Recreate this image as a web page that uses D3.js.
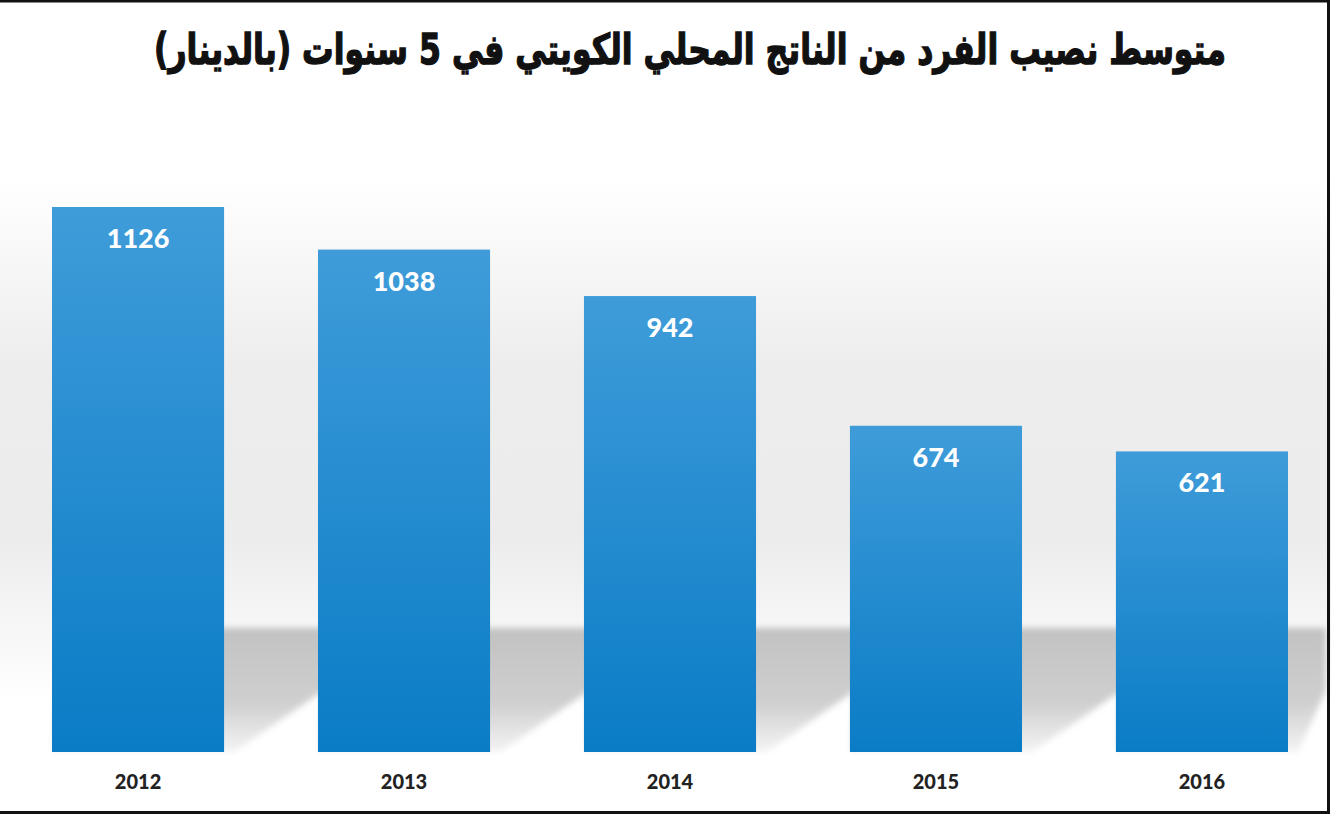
<!DOCTYPE html>
<html>
<head>
<meta charset="utf-8">
<script src="https://cdn.jsdelivr.net/npm/d3@7"></script>
<style>
	html, body { margin: 0; padding: 0; background: #fff; }
	svg { display: block; }
</style>
</head>
<body>
<div id="chart"></div>
<script>
// data
var years = ["2012", "2013", "2014", "2015", "2016"];
var values = [1126, 1038, 942, 674, 621];
var title = "متوسط نصيب الفرد من الناتج المحلي الكويتي في 5 سنوات (بالدينار)";

function init(){
	var w = 1331;
	var h = 815;
	var base = 752;

	var svg = d3.select("#chart")
				.append("svg")
				.attr("width", w)
				.attr("height", h);

	var defs = svg.append("defs");

	//soft grey band behind the bars
	var bg = defs.append("linearGradient")
				.attr("id", "bg")
				.attr("x1", 0).attr("y1", 0).attr("x2", 0).attr("y2", 1);
	bg.append("stop").attr("offset", "0.22").attr("stop-color", "#ffffff");
	bg.append("stop").attr("offset", "0.45").attr("stop-color", "#ededed");
	bg.append("stop").attr("offset", "0.66").attr("stop-color", "#ececec");
	bg.append("stop").attr("offset", "0.86").attr("stop-color", "#ffffff");

	var barGrad = defs.append("linearGradient")
				.attr("id", "barGrad")
				.attr("x1", 0).attr("y1", 0).attr("x2", 0).attr("y2", 1);
	barGrad.append("stop").attr("offset", "0").attr("stop-color", "#3f9cd9");
	barGrad.append("stop").attr("offset", "1").attr("stop-color", "#0a7cc6");

	var shadowGrad = defs.append("linearGradient")
				.attr("id", "shadowGrad")
				.attr("x1", 0).attr("y1", 0).attr("x2", 0).attr("y2", 1);
	shadowGrad.append("stop").attr("offset", "0").attr("stop-color", "#c2c2c2");
	shadowGrad.append("stop").attr("offset", "0.6").attr("stop-color", "#cfcfcf");
	shadowGrad.append("stop").attr("offset", "1").attr("stop-color", "#f4f4f4");

	defs.append("filter")
		.attr("id", "blur")
		.append("feGaussianBlur")
		.attr("stdDeviation", 3);

	svg.append("rect")
		.attr("width", w)
		.attr("height", h)
		.attr("fill", "url(#bg)");

	var x = d3.scaleBand()
				.domain(years)
				.range([52, 1288])
				.paddingInner(0.353)
				.paddingOuter(0);

	var y = d3.scaleLinear()
				.domain([0, 1126])
				.range([base, 207]);

	//shadows falling behind each bar
	svg.selectAll("path.shadow")
		.data(years)
		.enter()
		.append("path")
		.attr("class", "shadow")
		.attr("filter", "url(#blur)")
		.attr("fill", "url(#shadowGrad)")
		.attr("d", function(d){
			var x0 = x(d), x1 = x(d) + x.bandwidth();
			var far = Math.min(x1 + 100, 1326);
			return "M" + x0 + "," + base
				+ "L" + (x0 + 10) + ",628"
				+ "L" + far + ",628"
				+ "L" + far + ",690"
				+ "L" + (x1 + 10) + "," + base + "Z";
		});

	svg.selectAll("rect.bar")
		.data(values)
		.enter()
		.append("rect")
		.attr("class", "bar")
		.attr("x", function(d, i){ return x(years[i]); })
		.attr("y", function(d){ return y(d); })
		.attr("width", x.bandwidth())
		.attr("height", function(d){ return base - y(d); })
		.attr("fill", "url(#barGrad)");

	svg.selectAll("text.val")
		.data(values)
		.enter()
		.append("text")
		.attr("class", "val")
		.attr("x", function(d, i){ return x(years[i]) + x.bandwidth()/2; })
		.attr("y", function(d){ return y(d) + 41; })
		.attr("text-anchor", "middle")
		.attr("fill", "#fff")
		.style("font-family", "Lato, sans-serif")
		.style("font-weight", "900")
		.style("font-size", "27px")
		.text(function(d){ return d; });

	var xAxis = svg.append("g")
				.attr("transform", "translate(0," + base + ")")
				.call(d3.axisBottom(x).tickSize(0).tickPadding(23));
	xAxis.select(".domain").remove();
	xAxis.selectAll("text")
		.attr("fill", "#222")
		.style("font-family", "Lato, sans-serif")
		.style("font-weight", "900")
		.style("font-size", "20px");

	//title, heavier and condensed
	svg.append("text")
		.attr("transform", "translate(690,64) scale(0.75,1)")
		.attr("text-anchor", "middle")
		.attr("direction", "rtl")
		.attr("fill", "#111")
		.attr("stroke", "#111")
		.attr("stroke-width", 1.4)
		.style("font-family", "'DejaVu Sans', sans-serif")
		.style("font-weight", "bold")
		.style("font-size", "42px")
		.text(title);

	//frame: top, right and bottom edges
	svg.append("path")
		.attr("d", "M0,1H1328.5V812.5H0")
		.attr("fill", "none")
		.attr("stroke", "#111")
		.attr("stroke-width", 3);
}

window.onload = init;
</script>
</body>
</html>
